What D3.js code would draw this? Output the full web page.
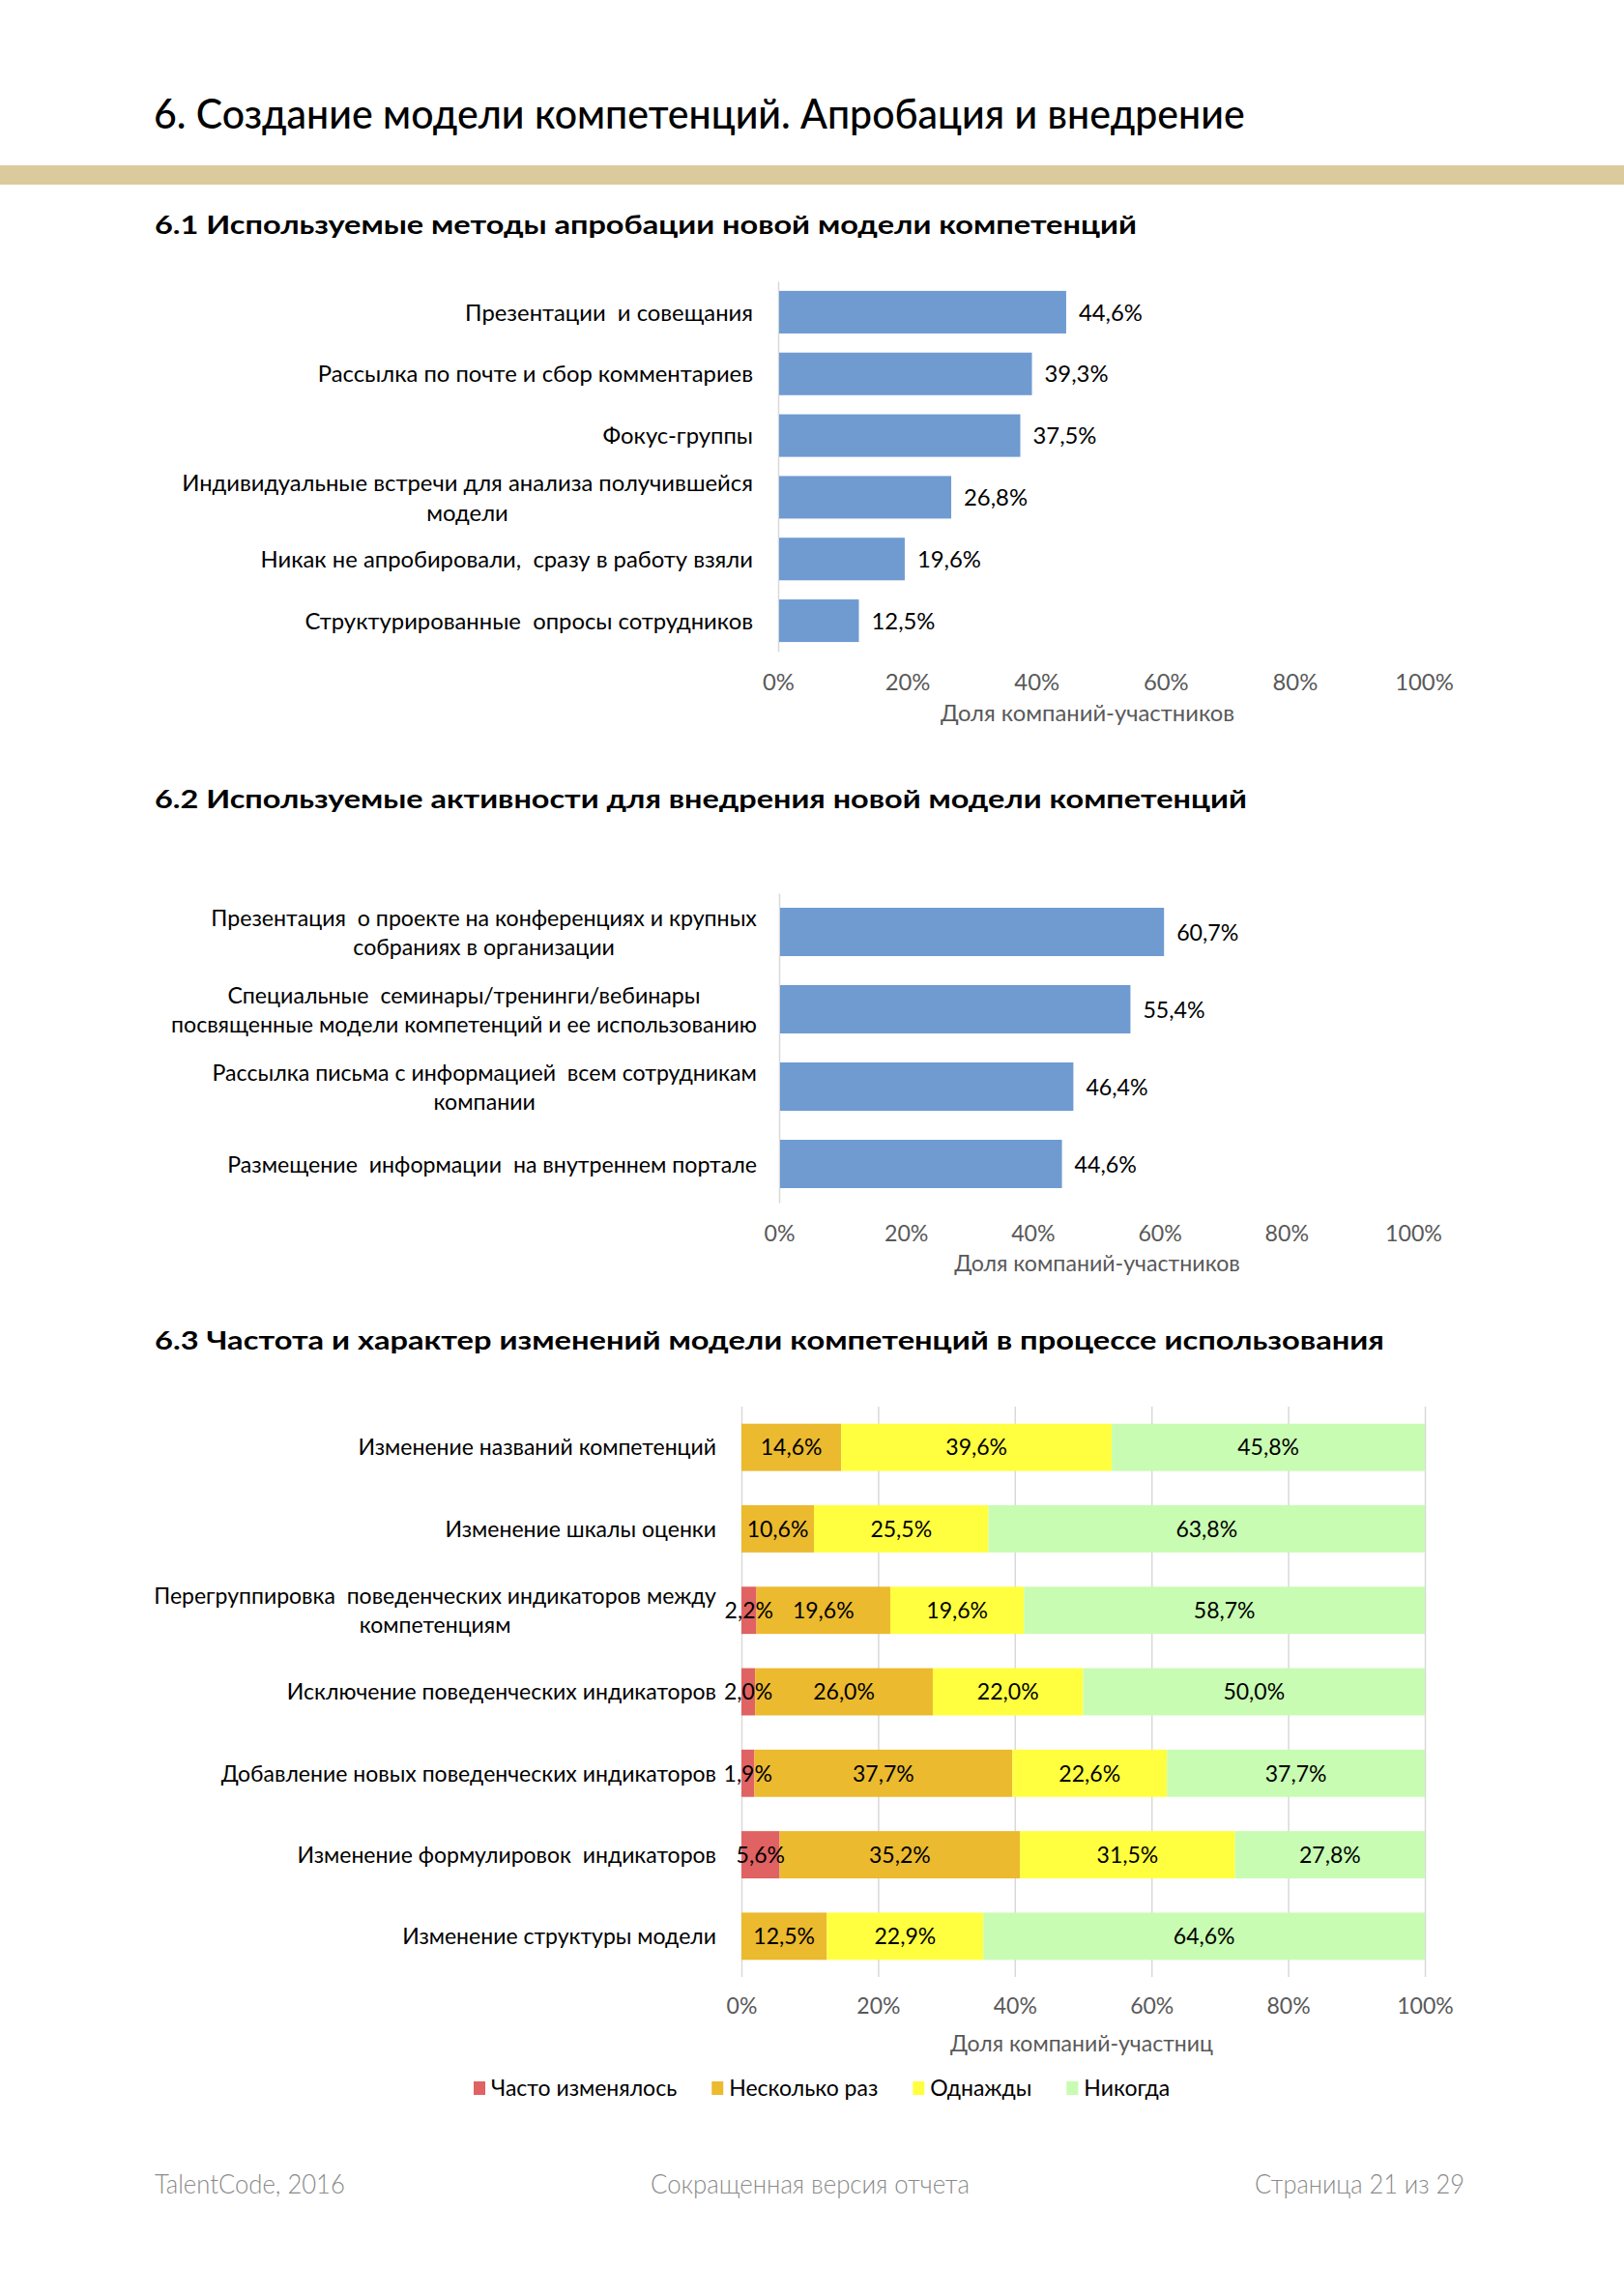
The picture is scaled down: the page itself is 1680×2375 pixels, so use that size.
<!DOCTYPE html>
<html><head><meta charset="utf-8">
<script src="https://cdn.jsdelivr.net/npm/d3@7"></script>
<style>
body{margin:0;background:#fff;}
svg text{white-space:pre;}
</style></head>
<body><svg id="page" width="1680" height="2375"></svg>
<script>
// ---------- DATA ----------
const pageTitle = "6. Создание модели компетенций. Апробация и внедрение";
const heading1 = "6.1 Используемые методы апробации новой модели компетенций";
const heading2 = "6.2 Используемые активности для внедрения новой модели компетенций";
const heading3 = "6.3 Частота и характер изменений модели компетенций в процессе использования";

const methodCategories = [
  "Презентации  и совещания",
  "Рассылка по почте и сбор комментариев",
  "Фокус-группы",
  "Индивидуальные встречи для анализа получившейся\nмодели",
  "Никак не апробировали,  сразу в работу взяли",
  "Структурированные  опросы сотрудников"
];
const methodValues = [44.6, 39.3, 37.5, 26.8, 19.6, 12.5];

const activityCategories = [
  "Презентация  о проекте на конференциях и крупных\nсобраниях в организации",
  "Специальные  семинары/тренинги/вебинары\nпосвященные модели компетенций и ее использованию",
  "Рассылка письма с информацией  всем сотрудникам\nкомпании",
  "Размещение  информации  на внутреннем портале"
];
const activityValues = [60.7, 55.4, 46.4, 44.6];

const changeCategories = [
  "Изменение названий компетенций",
  "Изменение шкалы оценки",
  "Перегруппировка  поведенческих индикаторов между\nкомпетенциям",
  "Исключение поведенческих индикаторов",
  "Добавление новых поведенческих индикаторов",
  "Изменение формулировок  индикаторов",
  "Изменение структуры модели"
];
const changeSeries = ["Часто изменялось", "Несколько раз", "Однажды", "Никогда"];
const oftenValues   = [0, 0, 2.2, 2.0, 1.9, 5.6, 0];
const severalValues = [14.6, 10.6, 19.6, 26.0, 37.7, 35.2, 12.5];
const onceValues    = [39.6, 25.5, 19.6, 22.0, 22.6, 31.5, 22.9];
const neverValues   = [45.8, 63.8, 58.7, 50.0, 37.7, 27.8, 64.6];

const percentTicks = [0, 20, 40, 60, 80, 100];
const axisTitle1 = "Доля компаний-участников";
const axisTitle2 = "Доля компаний-участников";
const axisTitle3 = "Доля компаний-участниц";
const footerLeft = "TalentCode, 2016";
const footerCenter = "Сокращенная версия отчета";
const footerRight = "Страница 21 из 29";

// ---------- STYLE ----------
const FONT = "Lato, 'Open Sans', sans-serif";
const barBlue = "#6F9BD1";
const seriesColors = ["#E06262", "#EBBA2F", "#FFFF40", "#C8FCB2"];
const axisGrey = "#D9D9D9";
const tickGrey = "#595959";

const svg = d3.select("#page");
svg.append("rect").attr("width", 1680).attr("height", 2375).attr("fill", "#fff");

const measurer = svg.append("text").attr("font-family", FONT).attr("opacity", 0);
function measure(str, size, weight) {
  measurer.attr("font-size", size).attr("font-weight", weight || 400).text(str);
  return measurer.node().getComputedTextLength();
}
function addText(parent, str, x, y, o) {
  const t = parent.append("text")
    .attr("font-family", o.family || FONT)
    .attr("font-size", o.size)
    .attr("font-weight", o.weight || 400)
    .attr("text-anchor", o.anchor || "start")
    .attr("fill", o.fill || "#000")
    .text(str);
  if (o.dy) t.attr("dy", o.dy);
  let sx = o.sx || 1;
  if (o.width) sx = o.width / t.node().getComputedTextLength();
  t.attr("transform", `translate(${x},${y}) scale(${sx},1)`);
  return t;
}
const fmt = v => d3.format(".1f")(v).replace(".", ",") + "%";

function catLabels(parent, cats, y, right, size, sx, lineH) {
  cats.forEach(c => {
    const lines = c.split("\n");
    const widths = lines.map(l => measure(l, size) * sx);
    const maxW = d3.max(widths);
    const cy = y(c) + y.bandwidth() / 2;
    lines.forEach((l, i) => {
      const ly = cy + (i - (lines.length - 1) / 2) * lineH;
      addText(parent, l, lines.length > 1 ? right - maxW / 2 : right, ly,
        {size, sx, anchor: lines.length > 1 ? "middle" : "end", dy: "0.36em"});
    });
  });
}
function tickAxis(parent, x, yBase, size, sx) {
  const g = parent.append("g").attr("transform", `translate(0,${yBase})`)
    .call(d3.axisBottom(x).tickValues(percentTicks).tickSize(0).tickFormat(d => d + "%"));
  g.select(".domain").remove();
  g.selectAll("text").attr("y", 0).attr("dy", 0)
    .attr("font-family", FONT).attr("font-size", size).attr("fill", tickGrey)
    .attr("transform", `scale(${sx},1)`);
  return g;
}

// ---------- PAGE HEADER ----------
addText(svg, pageTitle, 159, 133, {size: 43, weight: 500, width: 1129});
svg.append("rect").attr("x", 0).attr("y", 171).attr("width", 1680).attr("height", 20).attr("fill", "#DBCB9C");
addText(svg, heading1, 160, 242, {size: 27, weight: 700, width: 1016});
addText(svg, heading2, 160, 836, {size: 27, weight: 700, width: 1130});
addText(svg, heading3, 160, 1396, {size: 27, weight: 700, width: 1272});

// ---------- CHART 6.1 ----------
{
  const size = 24;
  const sx = 298 / measure(methodCategories[0], size);
  const g = svg.append("g");
  const x = d3.scaleLinear().domain([0, 100]).range([805, 1473]);
  const y = d3.scaleBand().domain(methodCategories).range([291, 674]).paddingInner(0.31).paddingOuter(0.155);
  const ax = g.append("g").attr("transform", `translate(${x(0)},0)`)
    .call(d3.axisLeft(y).tickSize(0).tickSizeOuter(0).tickFormat(""));
  ax.select(".domain").attr("stroke", axisGrey).attr("stroke-width", 1.5);
  g.selectAll("rect.bar").data(methodValues).join("rect").attr("class", "bar")
    .attr("x", x(0) + 1).attr("y", (d, i) => y(methodCategories[i]))
    .attr("width", d => x(d) - x(0) - 1).attr("height", y.bandwidth()).attr("fill", barBlue);
  methodValues.forEach((v, i) => addText(g, fmt(v), x(v) + 13, y(methodCategories[i]) + y.bandwidth() / 2, {size, sx, dy: "0.36em"}));
  catLabels(g, methodCategories, y, 779, size, sx, 31);
  tickAxis(g, x, 714, size, sx);
  addText(g, axisTitle1, 1125, 746, {size, sx, anchor: "middle", fill: tickGrey});
}

// ---------- CHART 6.2 ----------
{
  const size = 24;
  const sx = 548 / measure(activityCategories[3], size);
  const g = svg.append("g");
  const x = d3.scaleLinear().domain([0, 100]).range([806, 1462]);
  const y = d3.scaleBand().domain(activityCategories).range([924, 1244]).paddingInner(0.375).paddingOuter(0.1875);
  const ax = g.append("g").attr("transform", `translate(${x(0)},0)`)
    .call(d3.axisLeft(y).tickSize(0).tickSizeOuter(0).tickFormat(""));
  ax.select(".domain").attr("stroke", axisGrey).attr("stroke-width", 1.5);
  g.selectAll("rect.bar").data(activityValues).join("rect").attr("class", "bar")
    .attr("x", x(0) + 1).attr("y", (d, i) => y(activityCategories[i]))
    .attr("width", d => x(d) - x(0) - 1).attr("height", y.bandwidth()).attr("fill", barBlue);
  activityValues.forEach((v, i) => addText(g, fmt(v), x(v) + 13, y(activityCategories[i]) + y.bandwidth() / 2, {size, sx, dy: "0.36em"}));
  catLabels(g, activityCategories, y, 783, size, sx, 30);
  tickAxis(g, x, 1284, size, sx);
  addText(g, axisTitle2, 1135, 1315, {size, sx, anchor: "middle", fill: tickGrey});
}

// ---------- CHART 6.3 ----------
{
  const size = 23;
  const sx = 325 / measure(changeCategories[6], size);
  const g = svg.append("g");
  const x = d3.scaleLinear().domain([0, 100]).range([767, 1474]);
  const y = d3.scaleBand().domain(changeCategories).range([1455, 2045]).paddingInner(0.42).paddingOuter(0.21);
  const grid = g.append("g").attr("transform", "translate(0,2045)")
    .call(d3.axisBottom(x).tickValues(percentTicks).tickSize(-(2045 - 1455)).tickFormat(""));
  grid.select(".domain").remove();
  grid.selectAll("line").attr("stroke", axisGrey).attr("stroke-width", 1.5);

  const keys = ["often", "several", "once", "never"];
  const table = changeCategories.map((c, i) => ({
    cat: c, often: oftenValues[i], several: severalValues[i], once: onceValues[i], never: neverValues[i]
  }));
  const stacked = d3.stack().keys(keys).offset(d3.stackOffsetExpand)(table);
  stacked.forEach((layer, k) => {
    g.append("g").selectAll("rect").data(layer).join("rect")
      .attr("x", d => x(d[0] * 100)).attr("y", d => y(d.data.cat))
      .attr("width", d => x(d[1] * 100) - x(d[0] * 100)).attr("height", y.bandwidth())
      .attr("fill", seriesColors[k]);
  });
  stacked.forEach((layer, k) => {
    layer.forEach(d => {
      const v = d.data[keys[k]];
      if (v > 0) addText(g, fmt(v), x((d[0] + d[1]) / 2 * 100), y(d.data.cat) + y.bandwidth() / 2,
        {size, sx, anchor: "middle", dy: "0.36em"});
    });
  });
  catLabels(g, changeCategories, y, 741, size, sx, 30);
  tickAxis(g, x, 2083, size, sx);
  addText(g, axisTitle3, 1119, 2122, {size, sx, anchor: "middle", fill: tickGrey});

  // legend
  let lx = 490;
  changeSeries.forEach((s, k) => {
    g.append("rect").attr("x", lx).attr("y", 2153).attr("width", 12).attr("height", 14).attr("fill", seriesColors[k]);
    addText(g, s, lx + 18, 2160, {size, sx, dy: "0.36em"});
    lx += 18 + measure(s, size) * sx + 36;
  });
}

// ---------- FOOTER ----------
addText(svg, footerLeft, 160, 2269, {size: 28, weight: 300, fill: "#8A8A8A", width: 197});
addText(svg, footerCenter, 673, 2269, {size: 28, weight: 300, fill: "#8A8A8A", width: 330});
addText(svg, footerRight, 1515, 2269, {size: 28, weight: 300, fill: "#8A8A8A", anchor: "end", width: 217});
measurer.remove();
</script>
</body></html>
